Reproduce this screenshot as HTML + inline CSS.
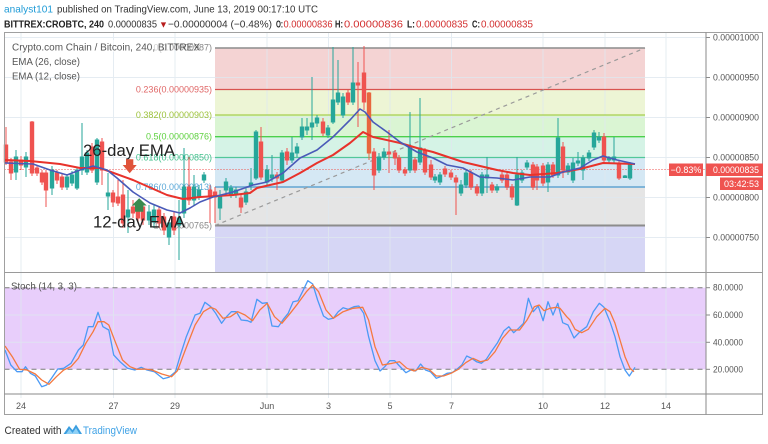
<!DOCTYPE html>
<html><head><meta charset="utf-8"><style>
html,body{margin:0;padding:0;background:#fff;}
svg{display:block;font-family:"Liberation Sans",sans-serif;}
</style></head><body>
<svg width="768" height="444" viewBox="0 0 768 444" xmlns="http://www.w3.org/2000/svg">
<rect width="768" height="444" fill="#fff"/>
<!-- header -->
<text x="4" y="12.5" font-size="10.5" fill="#1e9bd7" textLength="49" lengthAdjust="spacingAndGlyphs">analyst101</text>
<text x="57" y="12.5" font-size="10.5" fill="#333" textLength="261" lengthAdjust="spacingAndGlyphs">published on TradingView.com, June 13, 2019 00:17:10 UTC</text>
<g font-size="10.5">
<text x="4" y="27.5" font-weight="bold" fill="#222" textLength="100" lengthAdjust="spacingAndGlyphs">BITTREX:CROBTC, 240</text>
<text x="108" y="27.5" fill="#333" textLength="49" lengthAdjust="spacingAndGlyphs">0.00000835</text>
<text x="159" y="27.5" fill="#b71c1c" font-size="9">▼</text>
<text x="168" y="27.5" fill="#333" textLength="104" lengthAdjust="spacingAndGlyphs">−0.00000004 (−0.48%)</text>
<text x="276" y="27.5" font-weight="bold" fill="#222" textLength="7" lengthAdjust="spacingAndGlyphs">O:</text>
<text x="283.5" y="27.5" fill="#d32f2f" textLength="49" lengthAdjust="spacingAndGlyphs">0.00000836</text>
<text x="335" y="27.5" font-weight="bold" fill="#222" textLength="8" lengthAdjust="spacingAndGlyphs">H:</text>
<text x="344" y="27.5" fill="#d32f2f" textLength="59" lengthAdjust="spacingAndGlyphs">0.00000836</text>
<text x="407" y="27.5" font-weight="bold" fill="#222" textLength="8" lengthAdjust="spacingAndGlyphs">L:</text>
<text x="416" y="27.5" fill="#d32f2f" textLength="52" lengthAdjust="spacingAndGlyphs">0.00000835</text>
<text x="472" y="27.5" font-weight="bold" fill="#222" textLength="8" lengthAdjust="spacingAndGlyphs">C:</text>
<text x="481" y="27.5" fill="#d32f2f" textLength="52" lengthAdjust="spacingAndGlyphs">0.00000835</text>
</g>

<!-- fib fills -->
<rect x="215" y="48" width="430" height="41.5" fill="#f4d3d3"/>
<rect x="215" y="89.5" width="430" height="25.5" fill="#edf5d5"/>
<rect x="215" y="115" width="430" height="21.7" fill="#daf5d3"/>
<rect x="215" y="136.7" width="430" height="20.8" fill="#d5f3e6"/>
<rect x="215" y="157.5" width="430" height="29.5" fill="#d5e8f4"/>
<rect x="215" y="187" width="430" height="38.5" fill="#e5e5e5"/>
<rect x="215" y="225.5" width="430" height="47" fill="#d6d6f5"/>

<!-- stoch band -->
<rect x="4.5" y="287.7" width="701.5" height="81.6" fill="#e8cefb"/>

<!-- grid -->
<g stroke="#dfe8ef" stroke-width="1" opacity="0.8">
<line x1="4.5" y1="37.5" x2="706" y2="37.5"/>
<line x1="4.5" y1="77.5" x2="706" y2="77.5"/>
<line x1="4.5" y1="117.5" x2="706" y2="117.5"/>
<line x1="4.5" y1="157.5" x2="706" y2="157.5"/>
<line x1="4.5" y1="197.5" x2="706" y2="197.5"/>
<line x1="4.5" y1="237.5" x2="706" y2="237.5"/>
<line x1="4.5" y1="315" x2="706" y2="315"/>
<line x1="4.5" y1="342.3" x2="706" y2="342.3"/>
<line x1="21" y1="32.5" x2="21" y2="398"/>
<line x1="113.5" y1="32.5" x2="113.5" y2="398"/>
<line x1="175" y1="32.5" x2="175" y2="398"/>
<line x1="267" y1="32.5" x2="267" y2="398"/>
<line x1="328.5" y1="32.5" x2="328.5" y2="398"/>
<line x1="390" y1="32.5" x2="390" y2="398"/>
<line x1="451.5" y1="32.5" x2="451.5" y2="398"/>
<line x1="543" y1="32.5" x2="543" y2="398"/>
<line x1="605" y1="32.5" x2="605" y2="398"/>
<line x1="666" y1="32.5" x2="666" y2="398"/>
</g>

<!-- fib lines -->
<line x1="215" y1="48" x2="645" y2="48" stroke="#8c8c8c" stroke-width="1.5"/>
<line x1="215" y1="89.5" x2="645" y2="89.5" stroke="#d9534f" stroke-width="1.3"/>
<line x1="215" y1="115" x2="645" y2="115" stroke="#a8cf4e" stroke-width="1.3"/>
<line x1="215" y1="136.7" x2="645" y2="136.7" stroke="#4cd04c" stroke-width="1.3"/>
<line x1="215" y1="157.5" x2="645" y2="157.5" stroke="#52c79a" stroke-width="1.3"/>
<line x1="215" y1="187" x2="645" y2="187" stroke="#7fb5d9" stroke-width="2"/>
<line x1="215" y1="225.5" x2="645" y2="225.5" stroke="#8c8c8c" stroke-width="2"/>
<line x1="215" y1="225.5" x2="645" y2="48" stroke="#9a9a9a" stroke-width="1.2" stroke-dasharray="4,4"/>

<!-- fib labels -->
<g font-size="9" text-anchor="end">
<text x="212" y="50.5" fill="#888">0(0.00000987)</text>
<text x="212" y="92.5" fill="#e06666">0.236(0.00000935)</text>
<text x="212" y="118" fill="#9cc23a">0.382(0.00000903)</text>
<text x="212" y="139.5" fill="#5ed13f">0.5(0.00000876)</text>
<text x="212" y="160.5" fill="#3fbf8a">0.618(0.00000850)</text>
<text x="212" y="190" fill="#5aa8d8">0.786(0.00000813)</text>
<text x="212" y="228.5" fill="#888">1(0.00000765)</text>
</g>

<!-- legend -->
<rect x="10" y="40" width="160" height="12" fill="#fff" opacity="0.6"/>
<text x="12" y="50.5" font-size="10.5" fill="#555" textLength="188" lengthAdjust="spacingAndGlyphs">Crypto.com Chain / Bitcoin, 240, BITTREX</text>
<text x="12" y="65" font-size="10.5" fill="#555" textLength="68" lengthAdjust="spacingAndGlyphs">EMA (26, close)</text>
<text x="12" y="79.5" font-size="10.5" fill="#555" textLength="68" lengthAdjust="spacingAndGlyphs">EMA (12, close)</text>

<!-- current price dotted -->
<line x1="4.5" y1="169.5" x2="706" y2="169.5" stroke="#ef5350" stroke-width="1" stroke-dasharray="1,2"/>

<!-- candles -->
<g stroke-width="1">
<g stroke="#ef5350" fill="#ef5350">
<line x1="6" y1="127" x2="6" y2="165"/><rect x="4.3" y="145" width="3.4" height="17"/>
<line x1="11" y1="158" x2="11" y2="180"/><rect x="9.3" y="162" width="3.4" height="11"/>
<line x1="21" y1="156" x2="21" y2="170"/><rect x="19.3" y="160" width="3.4" height="5"/>
<line x1="32" y1="121" x2="32" y2="176"/><rect x="30.3" y="122" width="3.4" height="51"/>
<line x1="37" y1="165" x2="37" y2="176"/><rect x="35.3" y="168" width="3.4" height="5"/>
<line x1="42" y1="170" x2="42" y2="185"/><rect x="40.3" y="173" width="3.4" height="9"/>
<line x1="46" y1="170" x2="46" y2="207"/><rect x="44.3" y="173" width="3.4" height="17"/>
<line x1="57" y1="170" x2="57" y2="184"/><rect x="55.3" y="173" width="3.4" height="7"/>
<line x1="62" y1="174" x2="62" y2="190"/><rect x="60.3" y="177" width="3.4" height="10"/>
<line x1="92" y1="143" x2="92" y2="173"/><rect x="90.3" y="147" width="3.4" height="23"/>
<line x1="102" y1="138" x2="102" y2="185"/><rect x="100.3" y="142" width="3.4" height="28"/>
<line x1="113" y1="190" x2="113" y2="207"/><rect x="111.3" y="193" width="3.4" height="9"/>
<line x1="118" y1="180" x2="118" y2="206"/><rect x="116.3" y="197" width="3.4" height="6"/>
<line x1="123" y1="180" x2="123" y2="228"/><rect x="121.3" y="195" width="3.4" height="28"/>
<line x1="133" y1="200" x2="133" y2="218"/><rect x="131.3" y="207" width="3.4" height="6"/>
<line x1="138" y1="205" x2="138" y2="222"/><rect x="136.3" y="210" width="3.4" height="8"/>
<line x1="143" y1="205" x2="143" y2="225"/><rect x="141.3" y="207" width="3.4" height="13"/>
<line x1="159" y1="206" x2="159" y2="228"/><rect x="157.3" y="210" width="3.4" height="13"/>
<line x1="164" y1="213" x2="164" y2="235"/><rect x="162.3" y="217" width="3.4" height="13"/>
<line x1="174" y1="212" x2="174" y2="235"/><rect x="172.3" y="217" width="3.4" height="13"/>
<line x1="189" y1="157" x2="189" y2="205"/><rect x="187.3" y="187" width="3.4" height="13"/>
<line x1="210" y1="185" x2="210" y2="223"/><rect x="208.3" y="190" width="3.4" height="7"/>
<line x1="215" y1="187" x2="215" y2="223"/><rect x="213.3" y="192" width="3.4" height="5"/>
<line x1="241" y1="195" x2="241" y2="213"/><rect x="239.3" y="198" width="3.4" height="9"/>
<line x1="261" y1="127" x2="261" y2="180"/><rect x="259.3" y="142" width="3.4" height="35"/>
<line x1="277" y1="172" x2="277" y2="190"/><rect x="275.3" y="175" width="3.4" height="3"/>
<line x1="287" y1="148" x2="287" y2="165"/><rect x="285.3" y="152" width="3.4" height="8"/>
<line x1="323" y1="118" x2="323" y2="136"/><rect x="321.3" y="122" width="3.4" height="11"/>
<line x1="348" y1="90" x2="348" y2="105"/><rect x="346.3" y="93" width="3.4" height="9"/>
<line x1="358" y1="62" x2="358" y2="127"/><rect x="356.3" y="83" width="3.4" height="2"/>
<line x1="364" y1="46" x2="364" y2="110"/><rect x="362.3" y="73" width="3.4" height="29"/>
<line x1="369" y1="92" x2="369" y2="160" stroke="#e8663f"/><rect x="367.3" y="93" width="3.4" height="60" fill="#e8663f" stroke="#e8663f"/>
<line x1="374" y1="148" x2="374" y2="190"/><rect x="372.3" y="152" width="3.4" height="23"/>
<line x1="389" y1="130" x2="389" y2="173"/><rect x="387.3" y="152" width="3.4" height="2"/>
<line x1="395" y1="150" x2="395" y2="165"/><rect x="393.3" y="153" width="3.4" height="5"/>
<line x1="399" y1="155" x2="399" y2="173"/><rect x="397.3" y="158" width="3.4" height="12"/>
<line x1="405" y1="167" x2="405" y2="176"/><rect x="403.3" y="170" width="3.4" height="3"/>
<line x1="415" y1="157" x2="415" y2="173"/><rect x="413.3" y="160" width="3.4" height="10"/>
<line x1="425" y1="148" x2="425" y2="175"/><rect x="423.3" y="150" width="3.4" height="22"/>
<line x1="431" y1="160" x2="431" y2="180"/><rect x="429.3" y="165" width="3.4" height="12"/>
<line x1="445" y1="166" x2="445" y2="177"/><rect x="443.3" y="169" width="3.4" height="5"/>
<line x1="451" y1="170" x2="451" y2="180"/><rect x="449.3" y="173" width="3.4" height="4"/>
<line x1="456" y1="175" x2="456" y2="215"/><rect x="454.3" y="178" width="3.4" height="4"/>
<line x1="471" y1="170" x2="471" y2="190"/><rect x="469.3" y="173" width="3.4" height="14"/>
<line x1="477" y1="184" x2="477" y2="196"/><rect x="475.3" y="187" width="3.4" height="6"/>
<line x1="492" y1="182" x2="492" y2="193"/><rect x="490.3" y="185" width="3.4" height="5"/>
<line x1="502" y1="172" x2="502" y2="183"/><rect x="500.3" y="175" width="3.4" height="5"/>
<line x1="507" y1="172" x2="507" y2="190"/><rect x="505.3" y="175" width="3.4" height="12"/>
<line x1="512" y1="184" x2="512" y2="200"/><rect x="510.3" y="187" width="3.4" height="10"/>
<line x1="533" y1="162" x2="533" y2="190"/><rect x="531.3" y="165" width="3.4" height="22"/>
<line x1="537" y1="164" x2="537" y2="190"/><rect x="535.3" y="167" width="3.4" height="13"/>
<line x1="543" y1="163" x2="543" y2="186"/><rect x="541.3" y="166" width="3.4" height="17"/>
<line x1="553" y1="162" x2="553" y2="178"/><rect x="551.3" y="165" width="3.4" height="10"/>
<line x1="563" y1="142" x2="563" y2="178"/><rect x="561.3" y="147" width="3.4" height="23"/>
<line x1="604" y1="133" x2="604" y2="163"/><rect x="602.3" y="137" width="3.4" height="23"/>
<line x1="619" y1="160" x2="619" y2="180"/><rect x="617.3" y="163" width="3.4" height="15"/>
</g>
<g stroke="#26a69a" fill="#26a69a">
<line x1="16" y1="150" x2="16" y2="180"/><rect x="14.3" y="157" width="3.4" height="15"/>
<line x1="26" y1="152" x2="26" y2="177"/><rect x="24.3" y="157" width="3.4" height="10"/>
<line x1="52" y1="166" x2="52" y2="195"/><rect x="50.3" y="170" width="3.4" height="18"/>
<line x1="67" y1="174" x2="67" y2="190"/><rect x="65.3" y="177" width="3.4" height="10"/>
<line x1="72" y1="171" x2="72" y2="186"/><rect x="70.3" y="175" width="3.4" height="8"/>
<line x1="77" y1="168" x2="77" y2="190"/><rect x="75.3" y="170" width="3.4" height="18"/>
<line x1="82" y1="123" x2="82" y2="175"/><rect x="80.3" y="157" width="3.4" height="13"/>
<line x1="87" y1="150" x2="87" y2="175"/><rect x="85.3" y="153" width="3.4" height="19"/>
<line x1="97" y1="138" x2="97" y2="185"/><rect x="95.3" y="140" width="3.4" height="42"/>
<line x1="108" y1="173" x2="108" y2="210"/><rect x="106.3" y="193" width="3.4" height="3"/>
<line x1="128" y1="190" x2="128" y2="233"/><rect x="126.3" y="210" width="3.4" height="7"/>
<line x1="149" y1="205" x2="149" y2="225"/><rect x="147.3" y="212" width="3.4" height="8"/>
<line x1="154" y1="205" x2="154" y2="228"/><rect x="152.3" y="210" width="3.4" height="12"/>
<line x1="169" y1="220" x2="169" y2="245"/><rect x="167.3" y="223" width="3.4" height="14"/>
<line x1="179" y1="200" x2="179" y2="260"/><rect x="177.3" y="218" width="3.4" height="7"/>
<line x1="184" y1="148" x2="184" y2="218"/><rect x="182.3" y="187" width="3.4" height="26"/>
<line x1="194" y1="175" x2="194" y2="205"/><rect x="192.3" y="187" width="3.4" height="13"/>
<line x1="199" y1="185" x2="199" y2="200"/><rect x="197.3" y="190" width="3.4" height="7"/>
<line x1="204" y1="172" x2="204" y2="183"/><rect x="202.3" y="175" width="3.4" height="5"/>
<line x1="220" y1="190" x2="220" y2="220"/><rect x="218.3" y="197" width="3.4" height="11"/>
<line x1="226" y1="178" x2="226" y2="194"/><rect x="224.3" y="182" width="3.4" height="8"/>
<line x1="231" y1="185" x2="231" y2="198"/><rect x="229.3" y="188" width="3.4" height="7"/>
<line x1="236" y1="187" x2="236" y2="198"/><rect x="234.3" y="190" width="3.4" height="5"/>
<line x1="246" y1="188" x2="246" y2="205"/><rect x="244.3" y="192" width="3.4" height="10"/>
<line x1="251" y1="168" x2="251" y2="190"/><rect x="249.3" y="183" width="3.4" height="2"/>
<line x1="256" y1="130" x2="256" y2="180"/><rect x="254.3" y="132" width="3.4" height="46"/>
<line x1="267" y1="165" x2="267" y2="185"/><rect x="265.3" y="170" width="3.4" height="12"/>
<line x1="272" y1="155" x2="272" y2="182"/><rect x="270.3" y="175" width="3.4" height="3"/>
<line x1="282" y1="150" x2="282" y2="183"/><rect x="280.3" y="153" width="3.4" height="27"/>
<line x1="292" y1="137" x2="292" y2="163"/><rect x="290.3" y="153" width="3.4" height="7"/>
<line x1="297" y1="143" x2="297" y2="157"/><rect x="295.3" y="147" width="3.4" height="6"/>
<line x1="302" y1="118" x2="302" y2="140"/><rect x="300.3" y="127" width="3.4" height="10"/>
<line x1="307" y1="118" x2="307" y2="135"/><rect x="305.3" y="127" width="3.4" height="3"/>
<line x1="312" y1="77" x2="312" y2="140"/><rect x="310.3" y="123" width="3.4" height="4"/>
<line x1="317" y1="115" x2="317" y2="127"/><rect x="315.3" y="118" width="3.4" height="5"/>
<line x1="328" y1="125" x2="328" y2="138"/><rect x="326.3" y="128" width="3.4" height="7"/>
<line x1="333" y1="47" x2="333" y2="124"/><rect x="331.3" y="100" width="3.4" height="22"/>
<line x1="338" y1="60" x2="338" y2="105"/><rect x="336.3" y="93" width="3.4" height="9"/>
<line x1="343" y1="93" x2="343" y2="118"/><rect x="341.3" y="97" width="3.4" height="18"/>
<line x1="353" y1="47" x2="353" y2="105"/><rect x="351.3" y="83" width="3.4" height="19"/>
<line x1="379" y1="153" x2="379" y2="173"/><rect x="377.3" y="157" width="3.4" height="13"/>
<line x1="384" y1="148" x2="384" y2="160"/><rect x="382.3" y="152" width="3.4" height="5"/>
<line x1="410" y1="112" x2="410" y2="173"/><rect x="408.3" y="148" width="3.4" height="22"/>
<line x1="420" y1="98" x2="420" y2="165"/><rect x="418.3" y="148" width="3.4" height="14"/>
<line x1="435" y1="174" x2="435" y2="183"/><rect x="433.3" y="177" width="3.4" height="3"/>
<line x1="440" y1="172" x2="440" y2="185"/><rect x="438.3" y="175" width="3.4" height="7"/>
<line x1="461" y1="180" x2="461" y2="196"/><rect x="459.3" y="185" width="3.4" height="8"/>
<line x1="466" y1="170" x2="466" y2="188"/><rect x="464.3" y="173" width="3.4" height="12"/>
<line x1="482" y1="172" x2="482" y2="196"/><rect x="480.3" y="175" width="3.4" height="18"/>
<line x1="487" y1="157" x2="487" y2="193"/><rect x="485.3" y="175" width="3.4" height="3"/>
<line x1="497" y1="184" x2="497" y2="193"/><rect x="495.3" y="187" width="3.4" height="3"/>
<line x1="517" y1="157" x2="517" y2="206"/><rect x="515.3" y="175" width="3.4" height="30"/>
<line x1="522" y1="170" x2="522" y2="183"/><rect x="520.3" y="173" width="3.4" height="7"/>
<line x1="527" y1="160" x2="527" y2="170"/><rect x="525.3" y="163" width="3.4" height="4"/>
<line x1="548" y1="162" x2="548" y2="192"/><rect x="546.3" y="165" width="3.4" height="17"/>
<line x1="558" y1="118" x2="558" y2="178"/><rect x="556.3" y="138" width="3.4" height="37"/>
<line x1="568" y1="163" x2="568" y2="175"/><rect x="566.3" y="166" width="3.4" height="6"/>
<line x1="573" y1="158" x2="573" y2="183"/><rect x="571.3" y="163" width="3.4" height="17"/>
<line x1="578" y1="152" x2="578" y2="166"/><rect x="576.3" y="161" width="3.4" height="2"/>
<line x1="583" y1="155" x2="583" y2="180"/><rect x="581.3" y="158" width="3.4" height="12"/>
<line x1="589" y1="150" x2="589" y2="161"/><rect x="587.3" y="153" width="3.4" height="5"/>
<line x1="594" y1="130" x2="594" y2="150"/><rect x="592.3" y="133" width="3.4" height="14"/>
<line x1="599" y1="132" x2="599" y2="143"/><rect x="597.3" y="137" width="3.4" height="3"/>
<line x1="609" y1="156" x2="609" y2="163"/><rect x="607.3" y="158" width="3.4" height="2"/>
<line x1="614" y1="137" x2="614" y2="163"/><rect x="612.3" y="157" width="3.4" height="3"/>
<line x1="625" y1="175" x2="625" y2="178"/><rect x="623.3" y="176" width="3.4" height="1.5"/>
<line x1="630" y1="162" x2="630" y2="180"/><rect x="628.3" y="165" width="3.4" height="13"/>
</g>
</g>

<!-- EMAs -->
<polyline fill="none" stroke="#e8322b" stroke-width="2" stroke-linejoin="round" points="5,160 30,161 60,164 80,168 100,168 133,180 167,195 183,199 200,197 233,195 250,193 257,188 283,182 300,173 317,163 333,155 350,143 363,132 373,137 400,143 417,148 433,152 463,162 497,170 513,173 530,175 557,173 580,169 603,163 635,164"/>
<polyline fill="none" stroke="#4a5ab8" stroke-width="1.6" stroke-linejoin="round" points="5,163 33,164 50,170 67,175 80,170 93,166 107,170 117,178 133,192 150,203 167,210 180,213 190,208 200,202 213,197 233,192 253,185 267,182 283,173 300,158 317,150 333,137 350,120 360,109 365,112 373,122 387,132 400,142 417,152 433,158 447,165 463,168 480,177 497,178 513,180 530,177 550,177 563,172 580,168 593,160 603,156 617,160 635,164"/>

<!-- annotations -->
<text x="83" y="156" font-size="16.5" fill="#222" textLength="92" lengthAdjust="spacingAndGlyphs">26-day EMA</text>
<text x="93" y="227.5" font-size="16.5" fill="#222" textLength="92" lengthAdjust="spacingAndGlyphs">12-day EMA</text>
<polygon points="126,159.3 133.3,159.3 133.3,165 136.7,165 129.7,173.3 122.7,165 126,165" fill="#e0533a"/>
<polygon points="139.2,198.3 146.7,205.5 143.3,205.5 143.3,211.7 135,211.7 135,205.5 131.7,205.5" fill="#3a8a4f"/>

<!-- stoch -->
<line x1="4.5" y1="287.7" x2="706" y2="287.7" stroke="#7a7a7a" stroke-width="1" stroke-dasharray="5,4"/>
<line x1="4.5" y1="369.3" x2="706" y2="369.3" stroke="#7a7a7a" stroke-width="1" stroke-dasharray="5,4"/>
<text x="11" y="289.5" font-size="10" fill="#555" textLength="66" lengthAdjust="spacingAndGlyphs">Stoch (14, 3, 3)</text>
<polyline fill="none" stroke="#4b9af5" stroke-width="1.3" stroke-linejoin="round" points="5,350 10.8,365 17,371.7 22,371.7 25.5,366.7 30.4,373.3 35.3,376 41.7,386.7 46.6,385 51.5,378.3 57.8,369 63.7,368.3 71,363.3 78.4,350 83.3,345 88.2,326.7 93.1,326.7 98,312.3 102.9,326.7 108.8,330 113.7,355 120,361.7 127.5,368.3 134.8,370 141.2,367.3 147,370 154.4,371.7 163.2,378.7 169,377.3 175.5,371.7 180.4,355 186.3,336.7 195.1,315 200,313.3 204.9,302.3 210.8,306.7 215.7,313.3 221.6,323.3 226.5,316.7 231.4,311.7 236.3,311.7 241.2,320 247.5,320.7 251,322.3 256.9,299.3 262.3,303.3 267.2,302.7 272,326 278.4,326.7 283.3,319.3 288.2,313.3 293.1,301.7 298,300.7 303,290.7 307.8,280.7 312.7,284 317.6,300 323.5,316 328.4,319.3 333.3,318.3 338.2,311.7 343.1,307.7 348,309.3 354,306.7 358.8,306 363.7,313.3 368.6,336.7 375,360.7 380,371 384.8,366.7 389.7,360.7 394.6,360.7 399.5,366 405.9,372.7 410.8,370 415.7,371 420.6,364 425.5,370 430.4,371.7 436.3,378.3 442.2,376 447,373.3 452,372.7 456.9,369.3 461.8,365 466.7,356 471.6,358.3 476.5,361.7 481.4,363.3 486.3,359.3 491.2,351.7 497.5,342.7 504,330.7 508.8,326.7 513.7,332.7 518.6,328.3 523.5,323.3 528.4,298.3 533.3,311.7 538.2,306 543.1,320.7 548,301.7 553,315 557.8,303.3 562.7,322.7 568,325 574,338 580,331.7 586.7,326.7 593.3,311.7 599.3,303.3 604,307.3 610,321.7 615,336.7 620,356.7 625,370 629.3,376 635,367.3"/>
<polyline fill="none" stroke="#f5793f" stroke-width="1.3" stroke-linejoin="round" points="5,346 12.3,356.7 19.6,369.3 27,370 35.3,374 41.7,380 49,384.3 56.4,376.7 63.7,370 71,366.7 78.4,358.3 85.8,343.3 93.1,331.7 98,321.7 104,321.7 108.8,325 115.2,341.7 122.5,360 130,366.7 137,369.3 144.6,369 152,370 161.8,374 171.6,376.7 177.5,370.7 185.3,350 195.1,325 203.4,311.7 210.8,307.3 215.7,309.3 223,318.3 230.4,316.7 237.7,311.7 245,315 252.5,320.7 259.8,310 267.2,303.3 274.5,316.7 281.9,323.3 290.2,313.3 298,303.3 306.4,291.7 312.7,285 318.6,291.7 326,310 333.3,318.3 343.1,311.7 353,308.3 362.7,307.3 368.6,320 375,346.7 382.4,365 392.2,363.3 399.5,361.7 406.9,368.3 414.2,371 421.6,367.3 428.9,369.3 436.3,376 443.6,376 451,373.3 458.3,369.3 465.7,362.7 473,358.3 480.4,361.7 487.7,360 495,351.7 502.5,338.3 509.8,330 519.6,330 527,320 534.3,306.7 539.2,305 544,310.7 550,308.3 556.4,307.3 560,308.3 566.7,316.7 570,320 575,329.3 581.7,332.7 588.3,329.3 596.7,316.7 605,308.3 610,311.7 615,323.3 620,340 625,356.7 630,368.3 634,371.7"/>

<!-- frame -->
<rect x="4.5" y="32.5" width="758" height="382" fill="none" stroke="#a0a0a0" stroke-width="1"/>
<line x1="706" y1="32.5" x2="706" y2="414.5" stroke="#8a8a8a" stroke-width="1"/>
<line x1="4.5" y1="272.5" x2="762.5" y2="272.5" stroke="#9a9a9a" stroke-width="1"/>
<line x1="4.5" y1="394" x2="762.5" y2="394" stroke="#8a8a8a" stroke-width="1"/>

<!-- price axis -->
<g stroke="#8a8a8a">
<line x1="706" y1="37.5" x2="710" y2="37.5"/>
<line x1="706" y1="77.5" x2="710" y2="77.5"/>
<line x1="706" y1="117.5" x2="710" y2="117.5"/>
<line x1="706" y1="157.5" x2="710" y2="157.5"/>
<line x1="706" y1="197.5" x2="710" y2="197.5"/>
<line x1="706" y1="237.5" x2="710" y2="237.5"/>
<line x1="706" y1="287.7" x2="710" y2="287.7"/>
<line x1="706" y1="315" x2="710" y2="315"/>
<line x1="706" y1="342.3" x2="710" y2="342.3"/>
<line x1="706" y1="369.3" x2="710" y2="369.3"/>
</g>
<g font-size="9" fill="#555">
<text x="713" y="40.5" textLength="46" lengthAdjust="spacingAndGlyphs">0.00001000</text>
<text x="713" y="80.5" textLength="46" lengthAdjust="spacingAndGlyphs">0.00000950</text>
<text x="713" y="120.5" textLength="46" lengthAdjust="spacingAndGlyphs">0.00000900</text>
<text x="713" y="160.5" textLength="46" lengthAdjust="spacingAndGlyphs">0.00000850</text>
<text x="713" y="200.5" textLength="46" lengthAdjust="spacingAndGlyphs">0.00000800</text>
<text x="713" y="240.5" textLength="46" lengthAdjust="spacingAndGlyphs">0.00000750</text>
<text x="713" y="290.7" textLength="30" lengthAdjust="spacingAndGlyphs">80.0000</text>
<text x="713" y="318" textLength="30" lengthAdjust="spacingAndGlyphs">60.0000</text>
<text x="713" y="345.3" textLength="30" lengthAdjust="spacingAndGlyphs">40.0000</text>
<text x="713" y="372.3" textLength="30" lengthAdjust="spacingAndGlyphs">20.0000</text>
</g>

<!-- price badges -->
<rect x="669" y="163.5" width="34" height="12.5" fill="#ef5350"/>
<text x="686" y="172.8" font-size="9" fill="#fff" text-anchor="middle">−0.83%</text>
<rect x="706" y="163.5" width="57" height="12.5" fill="#ef5350"/>
<text x="713" y="172.8" font-size="9" fill="#fff" textLength="46" lengthAdjust="spacingAndGlyphs">0.00000835</text>
<rect x="720" y="177.5" width="43" height="12.5" fill="#ef5350"/>
<text x="741.5" y="186.8" font-size="9" fill="#fff" text-anchor="middle">03:42:53</text>

<!-- time axis -->
<g font-size="9" fill="#555" text-anchor="middle">
<text x="21" y="409">24</text>
<text x="113.5" y="409">27</text>
<text x="175" y="409">29</text>
<text x="267" y="409">Jun</text>
<text x="328.5" y="409">3</text>
<text x="390" y="409">5</text>
<text x="451.5" y="409">7</text>
<text x="543" y="409">10</text>
<text x="605" y="409">12</text>
<text x="666" y="409">14</text>
</g>

<!-- footer -->
<text x="4.5" y="434" font-size="11" fill="#333" textLength="57" lengthAdjust="spacingAndGlyphs">Created with</text>
<path d="M63.5,434 L69,426 L72.5,430 L76,424.5 L82,434 Z" fill="#3b9ee0"/>
<path d="M66,434 L69.5,429 L72.5,433 L76,428 L79.5,434 Z" fill="#8fd0f5"/>
<text x="83" y="434" font-size="11" fill="#3fa2e6" textLength="54" lengthAdjust="spacingAndGlyphs">TradingView</text>
</svg>
</body></html>
